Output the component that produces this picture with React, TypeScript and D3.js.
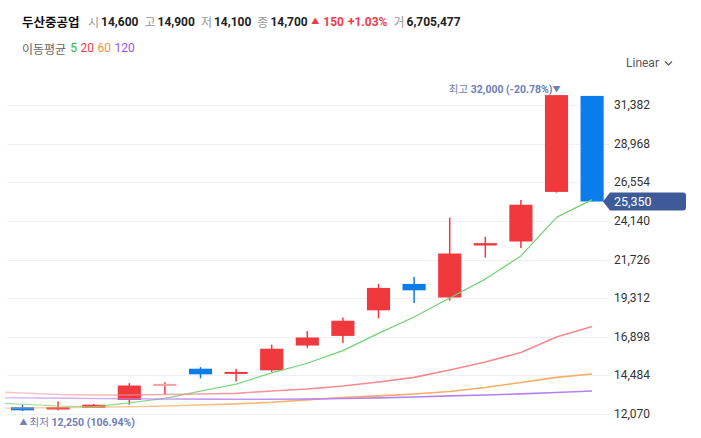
import { useEffect, useRef } from "react";
import * as d3 from "d3";

// 봉 데이터 (왼쪽부터)
const bars = ["b1", "b2", "b3", "b4", "b5", "b6", "b7", "b8", "b9", "b10", "b11", "b12", "b13", "b14", "b15", "b16", "b17"];
const opens = [12500, 12350, 12450, 12950, 13850, 14900, 14600, 14800, 16350, 16950, 18550, 20200, 19350, 22600, 22850, 25950, 31950];
const highs = [12650, 12850, 12700, 14000, 14050, 15000, 14900, 16400, 17250, 18100, 20200, 20650, 24350, 23150, 25450, 32000, 31950];
const lows = [12250, 12300, 12450, 12650, 13300, 14300, 14100, 14700, 16200, 16500, 18050, 19000, 19150, 21850, 22450, 25900, 25350];
const closes = [12300, 12500, 12650, 13850, 13950, 14550, 14700, 16150, 16850, 17900, 19950, 19800, 22100, 22750, 25150, 32000, 25350];
const fadedBars = ["b5"];

// 이동평균 (첫 값은 화면 왼쪽 밖 직전 봉)
const ma5 = [12800, 12680, 12570, 12510, 12760, 13050, 13500, 13940, 14640, 15240, 16030, 17110, 18130, 19320, 20500, 21950, 24360, 25470];
const ma20 = [13460, 13380, 13290, 13260, 13260, 13290, 13320, 13360, 13510, 13630, 13820, 14070, 14360, 14820, 15320, 15910, 16880, 17540];
const ma60 = [12430, 12450, 12460, 12490, 12520, 12570, 12630, 12700, 12800, 12950, 13100, 13200, 13320, 13480, 13730, 14040, 14360, 14570];
const ma120 = [13100, 13080, 13060, 13040, 13020, 13010, 13000, 12990, 12990, 13010, 13040, 13080, 13130, 13200, 13260, 13330, 13410, 13510];

const yTicks = [12070, 14484, 16898, 19312, 21726, 24140, 26554, 28968, 31382];

const stockName = "두산중공업";
const quoteLabels = ["시", "고", "저", "종"];
const quoteValues = ["14,600", "14,900", "14,100", "14,700"];
const changeText = ["150", "+1.03%"];
const volumeLabel = "거";
const volumeValue = "6,705,477";

const maNames = ["5", "20", "60", "120"];
const maLegendColors = ["#2fb52f", "#f03c46", "#f5913c", "#a050f0"];
const maLineColors = ["#6fd36f", "#f58a8f", "#f7ad66", "#b681f5"];

const RED = "#ef393d";
const BLUE = "#0b7deb";
const FADED = "#f4a2a2";
const NUM = "Roboto, 'Noto Sans CJK KR', sans-serif";
const KR = "'Noto Sans CJK KR', sans-serif";

export default function App() {
  const svgRef = useRef<SVGSVGElement>(null);
  const W = 701;
  const H = 438;

  useEffect(() => {
    if (!svgRef.current) return;
    const svg = d3.select(svgRef.current);
    svg.selectAll("*").remove();

    const plotLeft = 5;
    const plotRight = 610;

    const x = d3
      .scaleBand()
      .domain(["prev", ...bars])
      .range([-30.9, 609.9])
      .paddingInner(0.35)
      .paddingOuter(0.175);
    const cx = (d: string) => (x(d) || 0) + x.bandwidth() / 2;
    const y = d3.scaleLinear().domain([12070, 31382]).range([414, 105]);

    const defs = svg.append("defs");
    defs
      .append("clipPath")
      .attr("id", "plot")
      .append("rect")
      .attr("x", plotLeft)
      .attr("y", 80)
      .attr("width", plotRight - plotLeft)
      .attr("height", 345);

    // 격자선
    svg
      .append("g")
      .selectAll("line")
      .data(yTicks)
      .enter()
      .append("line")
      .attr("x1", 7)
      .attr("x2", plotRight)
      .attr("y1", (d) => Math.round(y(d)) + 0.5)
      .attr("y2", (d) => Math.round(y(d)) + 0.5)
      .attr("stroke", "#eef0f3")
      .attr("stroke-width", 1);

    // 봉
    const candles = bars.map((b, i) => ({ b, o: opens[i], h: highs[i], l: lows[i], c: closes[i] }));
    const colorOf = (d: { b: string; o: number; c: number }) =>
      fadedBars.includes(d.b) ? FADED : d.c >= d.o ? RED : BLUE;
    const cg = svg.append("g").attr("clip-path", "url(#plot)");
    cg.selectAll("line.wick")
      .data(candles)
      .enter()
      .append("line")
      .attr("x1", (d) => cx(d.b))
      .attr("x2", (d) => cx(d.b))
      .attr("y1", (d) => y(d.h))
      .attr("y2", (d) => y(d.l))
      .attr("stroke", (d) => (fadedBars.includes(d.b) ? RED : colorOf(d)))
      .attr("stroke-width", 1.5);
    cg.selectAll("rect.body")
      .data(candles)
      .enter()
      .append("rect")
      .attr("x", (d) => x(d.b) || 0)
      .attr("width", x.bandwidth())
      .attr("y", (d) => y(Math.max(d.o, d.c)))
      .attr("height", (d) => Math.max(2, Math.abs(y(d.o) - y(d.c))))
      .attr("fill", colorOf);

    // 이동평균선
    const domain = ["prev", ...bars];
    [ma5, ma20, ma60, ma120].forEach((arr, k) => {
      const gid = `ma-grad-${k}`;
      const grad = defs
        .append("linearGradient")
        .attr("id", gid)
        .attr("gradientUnits", "userSpaceOnUse")
        .attr("x1", plotLeft)
        .attr("x2", 330)
        .attr("y1", 0)
        .attr("y2", 0);
      grad.append("stop").attr("offset", 0).attr("stop-color", maLineColors[k]).attr("stop-opacity", k === 0 ? 0.7 : 0.45);
      grad.append("stop").attr("offset", 1).attr("stop-color", maLineColors[k]).attr("stop-opacity", 1);
      const line = d3
        .line<number>()
        .x((_, i) => cx(domain[i]))
        .y((v) => y(v));
      cg.append("path")
        .attr("d", line(arr) || "")
        .attr("fill", "none")
        .attr("stroke", `url(#${gid})`)
        .attr("stroke-width", k === 0 ? 1.2 : 1.6)
        .attr("stroke-linejoin", "round");
    });

    // 최고 / 최저 표시
    const hiIdx = highs.indexOf(d3.max(highs) || 0);
    const loIdx = lows.indexOf(d3.min(lows) || 0);
    const last = closes[closes.length - 1];
    const hiVal = highs[hiIdx];
    const loVal = lows[loIdx];
    const fmt = d3.format(",");
    const pct = (a: number, b: number) => `${((a / b - 1) * 100).toFixed(2)}%`;

    const hiText = svg
      .append("text")
      .attr("x", cx(bars[hiIdx]) + 4)
      .attr("y", y(hiVal) - 6)
      .attr("text-anchor", "end")
      .attr("dominant-baseline", "central")
      .attr("font-family", NUM)
      .attr("font-size", 10.5)
      .attr("fill", "#6e80b6");
    hiText.append("tspan").text("최고 ");
    hiText.append("tspan").attr("font-weight", 700).text(`${fmt(hiVal)} (${pct(last, hiVal)})`);
    hiText.append("tspan").attr("font-size", 8).text("▼");

    const loText = svg
      .append("text")
      .attr("x", cx(bars[loIdx]) - 3)
      .attr("y", y(loVal) + 10.5)
      .attr("dominant-baseline", "central")
      .attr("font-family", NUM)
      .attr("font-size", 10.5)
      .attr("fill", "#6e80b6");
    loText.append("tspan").attr("font-size", 8).text("▲");
    loText.append("tspan").attr("dx", 2).text("최저 ");
    loText.append("tspan").attr("font-weight", 700).text(`${fmt(loVal)} (${pct(last, loVal).replace("-", "")})`);

    // 오른쪽 축
    svg
      .append("g")
      .selectAll("text")
      .data(yTicks)
      .enter()
      .append("text")
      .attr("x", 614)
      .attr("y", (d) => y(d))
      .attr("dominant-baseline", "central")
      .attr("font-family", NUM)
      .attr("font-size", 12)
      .attr("fill", "#333")
      .text((d) => fmt(d));

    // 현재가 라벨
    const py = y(last);
    svg
      .append("path")
      .attr(
        "d",
        `M603,${py} L610,${py - 9} L683,${py - 9} Q686,${py - 9} 686,${py - 6} L686,${py + 6} Q686,${py + 9} 683,${py + 9} L610,${py + 9} Z`
      )
      .attr("fill", "#3e5a98");
    svg
      .append("text")
      .attr("x", 614)
      .attr("y", py)
      .attr("dominant-baseline", "central")
      .attr("font-family", NUM)
      .attr("font-size", 12.5)
      .attr("fill", "#fff")
      .text(fmt(last));

    // 상단 시세 정보
    const head = svg.append("g");
    let hx = 22;
    const put = (t: string, o: { size?: number; weight?: number; fill: string; font?: string; gap: number }) => {
      const el = head
        .append("text")
        .attr("x", hx)
        .attr("y", 21.5)
        .attr("dominant-baseline", "central")
        .attr("font-family", o.font || NUM)
        .attr("font-size", o.size || 12)
        .attr("font-weight", o.weight || 400)
        .attr("fill", o.fill)
        .text(t);
      hx += (el.node() as SVGTextElement).getComputedTextLength() + o.gap;
    };
    put(stockName, { size: 12.5, weight: 700, fill: "#111", font: KR, gap: 8.5 });
    quoteLabels.forEach((lab, i) => {
      put(lab, { fill: "#999", font: KR, gap: 2 });
      put(quoteValues[i], { weight: 700, fill: "#222", gap: i === quoteLabels.length - 1 ? 3.5 : 6 });
    });
    put("▲", { size: 8, fill: "#ef3b46", gap: 4 });
    put(changeText[0], { weight: 700, fill: "#ef3b46", gap: 4 });
    put(changeText[1], { weight: 700, fill: "#ef3b46", gap: 6 });
    put(volumeLabel, { fill: "#999", font: KR, gap: 2 });
    put(volumeValue, { weight: 700, fill: "#222", gap: 0 });

    // 이동평균 범례
    hx = 22;
    const leg = svg.append("g");
    const put2 = (t: string, fill: string, font: string, gap: number) => {
      const el = leg
        .append("text")
        .attr("x", hx)
        .attr("y", 48)
        .attr("dominant-baseline", "central")
        .attr("font-family", font)
        .attr("font-size", 12)
        .attr("fill", fill)
        .text(t);
      hx += (el.node() as SVGTextElement).getComputedTextLength() + gap;
    };
    put2("이동평균", "#666", KR, 4);
    maNames.forEach((n, i) => put2(n, maLegendColors[i], NUM, 3.5));

    // Linear 선택
    svg
      .append("text")
      .attr("x", 626)
      .attr("y", 63)
      .attr("dominant-baseline", "central")
      .attr("font-family", NUM)
      .attr("font-size", 12)
      .attr("fill", "#555")
      .text("Linear");
    svg
      .append("path")
      .attr("d", "M665,61.5 L668.5,65 L672,61.5")
      .attr("fill", "none")
      .attr("stroke", "#555")
      .attr("stroke-width", 1.1);
  }, []);

  return (
    <svg
      ref={svgRef}
      width={W}
      height={H}
      viewBox={`0 0 ${W} ${H}`}
      style={{ position: "absolute", left: 0, top: 0, background: "#fff" }}
    />
  );
}
